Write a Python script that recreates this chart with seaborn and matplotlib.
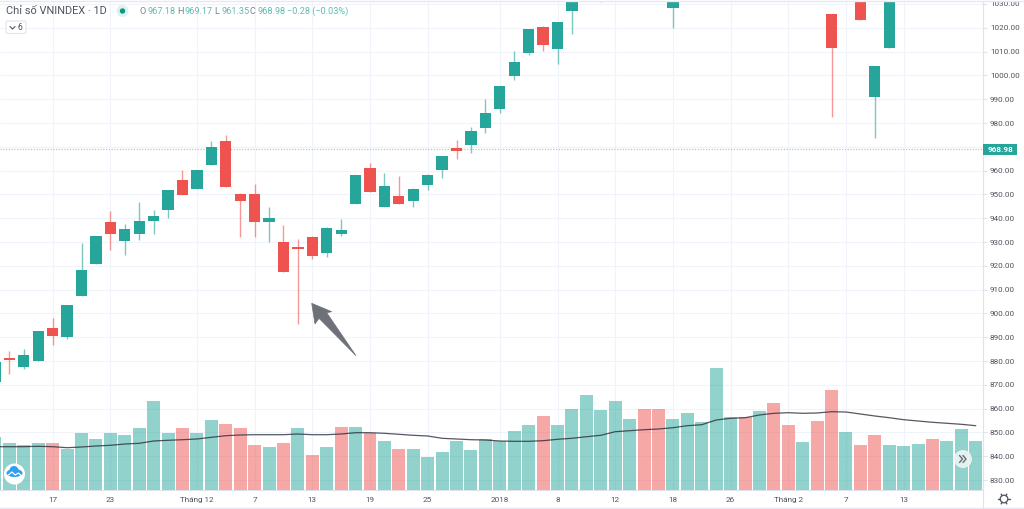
import numpy as np
import pandas as pd
import matplotlib.pyplot as plt
from matplotlib.patches import Circle, FancyBboxPatch, Polygon, Rectangle, Ellipse
import seaborn as sns

nan = float("nan")

# Daily candles (nan = outside the visible price range)
opens = [871.3, 881.0, 877.5, 880.0, 893.8, 890.0, 907.3, 920.9, 938.4, 930.4, 933.2, 938.8, 943.3, 956.2, 952.4,
         962.2, 972.3, 950.0, 950.0, 938.3, 930.0, 927.5, 932.0, 925.4, 933.5, 945.8, 961.0, 944.8, 949.5, 947.4,
         954.1, 960.3, 969.5, 970.6, 978.0, 985.9, 999.8, 1009.3, 1020.2, 1011.2, 1027.1, nan, 1032.0, nan, nan,
         nan, nan, 1028.5, nan, nan, nan, nan, nan, nan, nan, nan, nan, nan, 1026.0, nan,
         1036.0, 990.9, 1011.4, nan, nan, nan, nan, nan, nan]
closes = [879.4, 880.6, 882.7, 892.6, 890.7, 903.5, 918.2, 932.5, 933.5, 935.6, 938.7, 941.1, 952.0, 949.8, 960.4,
          969.8, 953.0, 947.4, 938.6, 940.0, 917.3, 927.2, 924.3, 935.7, 935.0, 958.2, 951.2, 953.4, 945.8, 952.3,
          958.2, 966.0, 968.2, 976.8, 984.3, 995.7, 1005.5, 1019.6, 1012.6, 1022.6, 1034.0, nan, 1036.0, nan, nan,
          nan, nan, 1034.0, nan, nan, nan, nan, nan, nan, nan, nan, nan, nan, 1011.4, nan,
          1023.1, 1003.8, 1036.0, nan, nan, nan, nan, nan, nan]
highs = [880.0, 884.2, 884.9, 892.6, 898.0, 903.5, 929.7, 932.5, 943.0, 937.4, 947.0, 943.4, 952.0, 960.1, 960.4,
         972.4, 975.0, 950.7, 954.2, 944.7, 937.0, 931.1, 932.5, 936.1, 939.5, 958.2, 963.0, 958.8, 957.6, 952.5,
         958.4, 966.0, 972.7, 978.5, 990.2, 995.7, 1010.3, 1019.6, 1020.6, 1022.6, 1034.0, nan, 1036.0, nan, nan,
         nan, nan, 1034.0, nan, nan, nan, nan, nan, nan, nan, nan, nan, nan, 1026.0, nan,
         1036.0, 1003.8, 1036.0, nan, nan, nan, nan, nan, nan]
lows = [870.0, 874.4, 876.5, 880.0, 886.7, 889.4, 907.3, 920.9, 926.8, 924.5, 931.0, 933.5, 940.2, 949.8, 952.4,
        962.2, 953.0, 932.2, 932.2, 930.2, 917.3, 895.7, 922.9, 923.9, 932.5, 945.8, 951.2, 944.8, 945.8, 944.8,
        952.0, 957.0, 964.9, 967.5, 975.9, 984.1, 998.1, 1008.6, 1010.3, 1004.8, 1017.5, nan, 1031.0, nan, nan,
        nan, nan, 1019.8, nan, nan, nan, nan, nan, nan, nan, nan, nan, nan, 982.7, nan,
        1023.1, 973.6, 1011.4, nan, nan, nan, nan, nan, nan]

# Volume pane, in pixel heights because the picture has no volume scale
volumes = [52.7, 47.3, 45.3, 47.3, 46.7, 41.0, 57.3, 50.7, 57.3, 55.3, 62.3, 89.0, 57.3, 62.3, 56.7,
           69.7, 66.0, 62.3, 45.3, 42.7, 47.3, 62.3, 35.3, 42.7, 63.3, 62.7, 57.3, 48.7, 40.7, 40.7,
           32.7, 38.0, 49.3, 40.0, 50.7, 48.7, 59.3, 65.0, 73.7, 65.0, 80.7, 94.7, 79.7, 88.7, 71.0,
           81.0, 81.0, 71.0, 77.3, 67.7, 122.3, 72.7, 72.7, 79.0, 86.7, 64.7, 48.0, 68.7, 100.3, 58.0,
           44.7, 55.3, 45.3, 44.0, 46.0, 51.3, 49.3, 61.3, 48.7]
volume_ma = [43.3, 43.3, 43.3, 43.7, 43.3, 42.3, 43.0, 44.0, 44.7, 46.0, 46.7, 49.0, 49.7, 50.3, 51.0,
             52.7, 54.3, 55.0, 55.3, 55.3, 55.3, 56.0, 55.3, 55.3, 56.0, 57.3, 57.3, 56.7, 55.7, 54.7,
             54.0, 51.7, 51.0, 50.3, 50.0, 49.0, 48.7, 48.7, 49.3, 50.7, 51.7, 53.3, 54.7, 58.3, 59.3,
             60.3, 61.0, 62.3, 64.3, 65.3, 70.0, 71.7, 72.3, 75.0, 76.7, 77.3, 76.7, 77.0, 78.3, 78.0,
             76.0, 74.0, 72.3, 70.3, 69.0, 67.7, 66.7, 65.7, 64.3]
red_volume_days = [4, 13, 16, 17, 18, 20, 22, 24, 26, 28, 38, 45, 46, 52, 54, 55, 57, 58, 60, 61, 65]

date_ticks = [4, 8, 14, 18, 22, 26, 30, 35, 39, 43, 47, 51, 55, 59, 63]
date_labels = ["17", "23", "Tháng 12", "7", "13", "19", "25", "2018", "8", "12", "18", "26", "Tháng 2", "7", "13"]
price_ticks = [830, 840, 850, 860, 870, 880, 890, 900, 910, 920, 930, 940, 950, 960, 980, 990, 1000, 1010, 1020, 1030]
grid_prices = price_ticks + [970]
last_price = 968.98

GREEN = "#26a69a"
RED = "#ef5350"
TEXT = "#50535e"
GRID = "#f0f3fa"
LINE = "#e0e3eb"

sns.set_theme(style="white")
plt.rcParams["font.family"] = ["Roboto", "DejaVu Sans"]

W, H = 1024, 509
fig = plt.figure(figsize=(W / 100, H / 100), dpi=100)
ax = fig.add_axes([0, (H - 490) / H, 983 / W, 488 / H])

days = np.arange(len(volumes))
df = pd.DataFrame({"day": days, "open": opens, "high": highs, "low": lows, "close": closes,
                   "volume": volumes, "ma": volume_ma})
df["side"] = np.where(df["day"].isin(red_volume_days), "down", "up")

# candles
candles = df.dropna(subset=["open"])
colors = [GREEN if c >= o else RED for o, c in zip(candles["open"], candles["close"])]
ax.vlines(candles["day"], candles["low"], candles["high"], colors=colors, lw=1, alpha=0.6, zorder=3)
ax.bar(candles["day"], (candles["close"] - candles["open"]).abs().clip(lower=0.5),
       bottom=candles[["open", "close"]].min(axis=1), width=0.78, color=colors, linewidth=0, zorder=4)

ax.axhline(last_price, color=GREEN, lw=0.8, ls=(0, (1, 1.5)), alpha=0.55, zorder=2)

# volume pane on a hidden scale
vol_ax = ax.twinx()
sns.barplot(data=df, x="day", y="volume", hue="side", palette={"up": GREEN, "down": RED}, dodge=False,
            native_scale=True, width=0.9, alpha=0.5, saturation=1, linewidth=0, legend=False, ax=vol_ax)
sns.lineplot(data=df, x="day", y="ma", color="#2a2e39", lw=0.9, alpha=0.8, ax=vol_ax)
vol_ax.set_ylim(0, 488)
vol_ax.set_ylabel("")
vol_ax.set_xlabel("")
vol_ax.set_yticks([])
for s in vol_ax.spines.values():
    s.set_visible(False)
vol_ax.patch.set_alpha(0)

ax.set_xlim(0.347, 68.5)
ax.set_ylim(825.8, 1030.84)
ax.set_xticks(date_ticks)
ax.set_xticklabels(date_labels)
ax.yaxis.tick_right()
ax.set_yticks(price_ticks)
ax.set_yticklabels([f"{p:.2f}" for p in price_ticks])
ax.tick_params(axis="y", length=3, width=0.8, color=LINE, pad=2, labelsize=5.9, labelcolor=TEXT)
ax.tick_params(axis="x", length=0, pad=5, labelsize=5.9, labelcolor=TEXT)
ax.grid(False)
for p in grid_prices:
    ax.axhline(p, color=GRID, lw=0.8, zorder=0)
for d in date_ticks:
    ax.axvline(d, color=GRID, lw=0.8, zorder=0)
for name in ["top", "left"]:
    ax.spines[name].set_visible(False)
ax.spines["right"].set_color(LINE)
ax.spines["bottom"].set_color(LINE)
ax.spines["right"].set_linewidth(0.8)
ax.spines["bottom"].set_linewidth(0.8)

# overlay in pixel coordinates for the header and the little widgets
ov = fig.add_axes([0, 0, 1, 1], zorder=10)
ov.set_xlim(0, W)
ov.set_ylim(H, 0)
ov.axis("off")
ov.patch.set_alpha(0)

ov.plot([0, W], [1, 1], color="#e8e8f2", lw=1)
ov.plot([0, W], [508, 508], color="#e8e8f2", lw=1)
ov.plot([983, 983], [490, 509], color=LINE, lw=0.8)

ov.text(6, 11, "Chỉ số VNINDEX · 1D", fontsize=7.9, color=TEXT, va="center")
ov.add_patch(Circle((122.5, 11), 6, color=GREEN, alpha=0.15, lw=0))
ov.add_patch(Circle((122.5, 11), 2.7, color="#089981", lw=0))
TEAL = "#5cbdb1"
for x, label, val in [(140, "O", "967.18"), (177.5, "H", "969.17"), (214, "L", "961.35"), (250, "C", "968.98")]:
    ov.text(x, 11.5, label, fontsize=6.6, color="#7b7f8c", va="center")
    ov.text(x + 7, 11.5, val, fontsize=6.6, color=TEAL, va="center")
ov.text(287, 11.5, "−0.28 (−0.03%)", fontsize=6.6, color=TEAL, va="center")

ov.add_patch(FancyBboxPatch((6, 21), 20, 12.5, boxstyle="round,pad=0,rounding_size=2", fc="white", ec=LINE, lw=0.8))
ov.plot([10, 12.5, 15], [26.5, 29, 26.5], color=TEXT, lw=0.8)
ov.text(18, 27.3, "6", fontsize=6.2, color=TEXT, va="center")

# price tag
ov.add_patch(Rectangle((983, 143.5), 34, 11.5, fc=GREEN, ec="none"))
ov.text(1000.5, 149.5, "968.98", fontsize=5.9, color="white", ha="center", va="center", fontweight="bold")

# annotation arrow
ov.add_patch(Polygon([(311.7, 303.3), (331.7, 311.7), (326.7, 312.7), (356, 355.7), (319, 318.3), (315, 324)],
                     closed=True, fc="#6f7178", ec="#6f7178", lw=0.5))

# logo badge
ov.add_patch(Circle((14.5, 474), 10.5, fc="white", ec="none"))
ov.add_patch(Ellipse((14.5, 473), 16, 8, fc="#2f9ff0", ec="none"))
ov.add_patch(Circle((14, 470.5), 4.5, fc="#2f9ff0", ec="none"))
ov.plot([8.5, 12, 15, 18.5, 21], [475, 472, 475, 473, 475.5], color="white", lw=0.9)

# scroll button
ov.add_patch(Circle((963, 459), 9, fc="#e9f4f2", ec="none", alpha=0.95))
for dx in [0, 3.5]:
    ov.plot([959.5 + dx, 962.5 + dx, 959.5 + dx], [455.5, 459, 462.5], color="#6a6d78", lw=1)

# settings gear
ov.add_patch(Circle((1004, 499), 3.8, fc="none", ec=TEXT, lw=0.9))
for a in np.deg2rad(np.arange(0, 360, 60)):
    ov.plot([1004 + 3.8 * np.cos(a), 1004 + 5.6 * np.cos(a)], [499 + 3.8 * np.sin(a), 499 + 5.6 * np.sin(a)],
            color=TEXT, lw=1)

fig.savefig("out.png", dpi=100, facecolor="white")
